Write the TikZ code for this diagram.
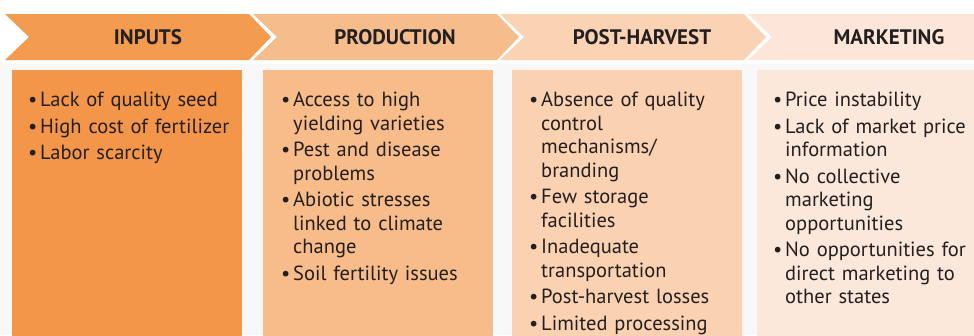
\documentclass[tikz,border=0pt]{standalone}
\usepackage{fontspec}
\setmainfont{PT Sans}
\usetikzlibrary{positioning}

\definecolor{ink}{HTML}{231F20}
\definecolor{pagebg}{HTML}{F8F8F8}
\definecolor{stageA}{HTML}{F39B4E}
\definecolor{stageB}{HTML}{F6BD8C}
\definecolor{stageC}{HTML}{F9D3B4}
\definecolor{stageD}{HTML}{FBE6D9}
\definecolor{panelA}{HTML}{F4964A}
\definecolor{panelB}{HTML}{F7BC89}
\definecolor{panelC}{HTML}{FAD2B2}
\definecolor{panelD}{HTML}{FCE8DB}

% one bullet point with a hanging indent
\newcommand{\pitem}[1]{\par\hyphenpenalty=10000\hangindent=12pt\hangafter=1\noindent
  \strut\makebox[12pt][l]{\textbullet}#1\par\vspace{3pt}}

\tikzset{
  hdr/.style={font=\bfseries\fontsize{21}{24}\selectfont, text=ink},
  panel/.style={fill=#1, anchor=north west, inner sep=0pt,
    minimum width=230pt, minimum height=275pt},
  items/.style={anchor=north west, inner sep=0pt, text width=215pt,
    align=left, text=ink, font=\fontsize{20.5}{23.5}\selectfont},
}

\begin{document}
\begin{tikzpicture}[x=1pt, y=-1pt]
    \useasboundingbox (0,0) rectangle (974,335);
    \fill[white] (0,0) rectangle (974,335);
    \fill[pagebg] (0,64) rectangle (974,335);

    % stage arrows
    \foreach \xo/\col in {5/stageA, 253/stageB, 500/stageC, 748/stageD}
        \fill[\col] (\xo,14) -- (\xo+244,14) -- (\xo+266,37)
            -- (\xo+244,60) -- (\xo,60) -- (\xo+24,37) -- cycle;

    \node[hdr] (hInputs) at (148,37) {INPUTS};
    \node[hdr] (hProd) at (395,37) {PRODUCTION};
    \node[hdr] (hPost) at (642,37) {POST-HARVEST};
    \node[hdr] (hMarket) at (889,37) {MARKETING};

    % panels below the arrows
    \node[panel=panelA] (pInputs) at (12,70) {};
    \node[panel=panelB] (pProd) at (263,70) {};
    \node[panel=panelC] (pPost) at (512,70) {};
    \node[panel=panelD] (pMarket) at (757,70) {};

    \node[items, below right=13pt and 16pt of pInputs.north west] (tInputs) {%
        \pitem{Lack of quality seed}
        \pitem{High cost of fertilizer}
        \pitem{Labor scarcity}};
    \node[items, below right=13pt and 18pt of pProd.north west] (tProd) {%
        \pitem{Access to high\newline yielding varieties}
        \pitem{Pest and disease\newline problems}
        \pitem{Abiotic stresses\newline linked to climate\newline change}
        \pitem{Soil fertility issues}};
    \node[items, below right=13pt and 17pt of pPost.north west] (tPost) {%
        \pitem{Absence of quality\newline control\newline mechanisms/\newline branding}
        \pitem{Few storage\newline facilities}
        \pitem{Inadequate\newline transportation}
        \pitem{Post-harvest losses}
        \pitem{Limited processing}};
    \node[items, below right=13pt and 16pt of pMarket.north west] (tMarket) {%
        \pitem{Price instability}
        \pitem{Lack of market price\newline information}
        \pitem{No collective\newline marketing\newline opportunities}
        \pitem{No opportunities for\newline direct marketing to\newline other states}};
\end{tikzpicture}
\end{document}
